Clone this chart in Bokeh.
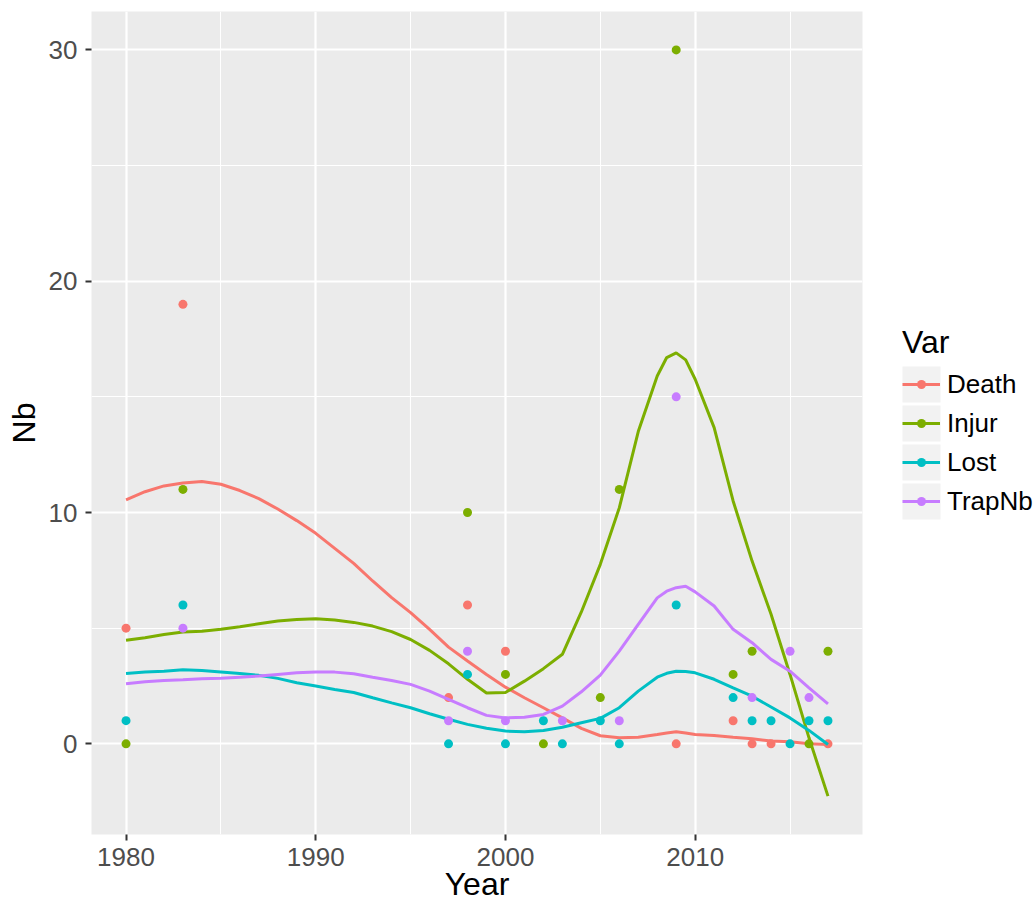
import math
from bokeh.plotting import figure
from bokeh.layouts import row
from bokeh.models import Range1d, FixedTicker, Legend, LegendItem
from bokeh.embed import file_html
from bokeh.resources import INLINE

nan = float("nan")

# ---- observed points ----
years = [1980, 1983, 1997, 1998, 2000, 2002, 2003, 2005, 2006, 2009, 2012, 2013, 2014, 2015, 2016, 2017]
death = [5, 19, 2, 6, 4, nan, nan, nan, nan, 0, 1, 0, 0, nan, nan, 0]
injur = [0, 11, nan, 10, 3, 0, nan, 2, 11, 30, 3, 4, nan, nan, 0, 4]
lost = [1, 6, 0, 3, 0, 1, 0, 1, 0, 6, 2, 1, 1, 0, 1, 1]
trapnb = [nan, 5, 1, 4, 1, nan, 1, nan, 1, 15, nan, 2, nan, 4, 2, nan]

# ---- smoothed curves ----
fit_years = [1980, 1981, 1982, 1983, 1984, 1985, 1986, 1987, 1988, 1989,
             1990, 1991, 1992, 1993, 1994, 1995, 1996, 1997, 1998, 1999,
             2000, 2001, 2002, 2003, 2004, 2005, 2006, 2007, 2008, 2008.5,
             2009, 2009.5, 2010, 2011, 2012, 2013, 2014, 2015, 2016, 2017]
death_fit = [10.55, 10.9, 11.15, 11.28, 11.34, 11.22, 10.95, 10.6, 10.15, 9.65,
             9.1, 8.45, 7.8, 7.04, 6.32, 5.67, 4.95, 4.18, 3.58, 3.0,
             2.45, 1.99, 1.56, 1.12, 0.67, 0.35, 0.26, 0.28, 0.4, 0.47,
             0.52, 0.47, 0.4, 0.36, 0.28, 0.22, 0.12, 0.09, 0.0, -0.03]
injur_fit = [4.48, 4.59, 4.73, 4.83, 4.87, 4.95, 5.06, 5.19, 5.31, 5.38,
             5.41, 5.35, 5.25, 5.09, 4.85, 4.51, 4.04, 3.46, 2.79, 2.2,
             2.22, 2.71, 3.25, 3.87, 5.7, 7.76, 10.2, 13.5, 15.9, 16.7,
             16.9, 16.6, 15.76, 13.67, 10.5, 7.9, 5.6, 3.0, 0.26, -2.26]
lost_fit = [3.04, 3.11, 3.14, 3.2, 3.17, 3.11, 3.04, 2.96, 2.83, 2.64,
            2.5, 2.35, 2.22, 1.99, 1.77, 1.56, 1.3, 1.06, 0.84, 0.67,
            0.55, 0.52, 0.58, 0.72, 0.91, 1.1, 1.56, 2.28, 2.88, 3.05,
            3.14, 3.13, 3.07, 2.79, 2.42, 2.06, 1.59, 1.12, 0.58, -0.03]
trapnb_fit = [2.6, 2.68, 2.74, 2.77, 2.81, 2.83, 2.88, 2.93, 3.0, 3.07,
              3.11, 3.1, 3.03, 2.88, 2.74, 2.57, 2.28, 1.92, 1.56, 1.23,
              1.12, 1.15, 1.27, 1.63, 2.25, 2.97, 4.01, 5.16, 6.31, 6.6,
              6.75, 6.81, 6.57, 5.96, 4.95, 4.37, 3.65, 3.14, 2.42, 1.73]

var_names = ["Death", "Injur", "Lost", "TrapNb"]
colors = ["#F8766D", "#7CAE00", "#00BFC4", "#C77CFF"]
x_ticks = [1980, 1990, 2000, 2010]
x_minor = [1985, 1995, 2005, 2015]
y_ticks = [0, 10, 20, 30]
y_minor = [5, 15, 25]

FONT = "Liberation Sans"
TOP, FRAME_H, FRAME_W, LEFT = 11, 823, 771, 91
PT_SIZE, LINE_W = 9, 3

p = figure(frame_width=FRAME_W, frame_height=FRAME_H, output_backend="svg", toolbar_location=None,
           x_range=Range1d(1978.18, 2018.82), y_range=Range1d(-3.92, 31.66),
           min_border_left=LEFT, min_border_right=10, min_border_top=TOP, min_border_bottom=76)
p.background_fill_color = "#EBEBEB"
p.border_fill_color = "white"
p.outline_line_color = None

p.xaxis.ticker = FixedTicker(ticks=x_ticks, minor_ticks=x_minor)
p.yaxis.ticker = FixedTicker(ticks=y_ticks, minor_ticks=y_minor)

for g in (p.xgrid, p.ygrid):
    g.grid_line_color = "white"
    g.grid_line_width = 2.2
    g.minor_grid_line_color = "white"
    g.minor_grid_line_width = 1.1

for ax in (p.xaxis, p.yaxis):
    ax.axis_line_color = None
    ax.major_tick_line_color = "#333333"
    ax.major_tick_line_width = 2
    ax.major_tick_out = 6
    ax.major_tick_in = 0
    ax.minor_tick_line_color = None
    ax.major_label_text_font = FONT
    ax.major_label_text_font_size = "26px"
    ax.major_label_text_color = "#4D4D4D"
    ax.axis_label_text_font = FONT
    ax.axis_label_text_font_size = "32px"
    ax.axis_label_text_font_style = "normal"
    ax.axis_label_text_color = "black"
p.xaxis.major_label_standoff = 7
p.yaxis.major_label_standoff = 8
p.xaxis.axis_label = "Year"
p.yaxis.axis_label = "Nb"
p.xaxis.axis_label_standoff = -3
p.yaxis.axis_label_standoff = 4

series_pts = [death, injur, lost, trapnb]
series_fit = [death_fit, injur_fit, lost_fit, trapnb_fit]
for name, col, pts, fit in zip(var_names, colors, series_pts, series_fit):
    xs = [x for x, v in zip(years, pts) if not math.isnan(v)]
    vs = [v for v in pts if not math.isnan(v)]
    p.scatter(xs, vs, size=PT_SIZE, color=col, line_color=None)
    p.line(fit_years, fit, line_width=LINE_W, color=col)

# ---- legend panel (separate figure; its frame is aligned with the main frame,
#      ranges map 1:1 to page pixels) ----
LEG_W = 164
leg = figure(width=LEG_W, frame_height=FRAME_H, output_backend="svg", toolbar_location=None,
             x_range=Range1d(0, LEG_W), y_range=Range1d(TOP + FRAME_H, TOP),
             x_axis_type=None, y_axis_type=None,
             min_border_left=0, min_border_right=0, min_border_top=TOP, min_border_bottom=76)
leg.outline_line_color = None
leg.grid.visible = False
leg.background_fill_color = "white"
leg.border_fill_color = "white"

key_left, key_top, key_size, key_pitch = 30, 365, 38, 39
key_tops = [key_top + i * key_pitch for i in range(len(var_names))]
leg.quad(left=[key_left] * 4, right=[key_left + key_size] * 4,
         top=[t + 1 for t in key_tops], bottom=[t + key_size - 1 for t in key_tops],
         fill_color="#F2F2F2", line_color=None)

items = []
for name, col in zip(var_names, colors):
    ln = leg.line([nan, nan], [nan, nan], line_width=LINE_W, color=col)
    items.append(LegendItem(label=name, renderers=[ln]))

legend = Legend(items=items, title="Var",
                location=(key_left, TOP + FRAME_H - (key_tops[-1] + key_size)),
                title_text_font=FONT, title_text_font_size="32px", title_text_font_style="normal",
                title_text_color="black", title_standoff=4,
                label_text_font=FONT, label_text_font_size="26px", label_text_color="black",
                glyph_width=key_size, glyph_height=key_size, label_standoff=7,
                spacing=key_pitch - key_size,
                padding=0, margin=0, border_line_color=None, background_fill_alpha=0)
leg.add_layout(legend, "center")

# point marks of the legend keys, drawn over the key lines
leg.scatter([key_left + key_size / 2] * 4, [t + key_size / 2 for t in key_tops],
            size=PT_SIZE, color=colors, line_color=None, level="overlay")

layout = row(p, leg)
open("out.html", "w").write(file_html(layout, INLINE))
